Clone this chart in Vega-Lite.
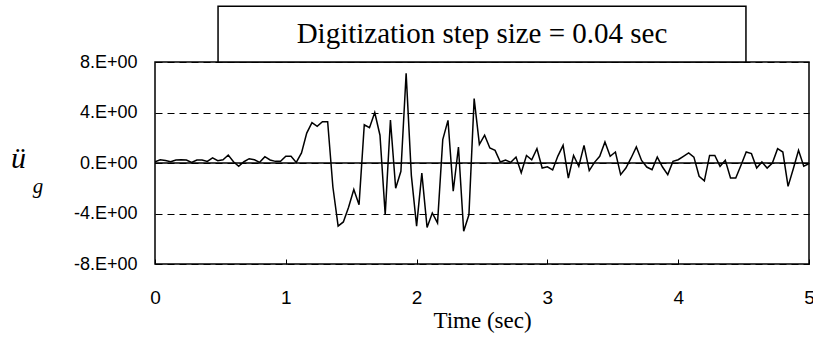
{
  "$schema": "https://vega.github.io/schema/vega-lite/v6.json",
  "autosize": {"type": "none"},
  "width": 654,
  "height": 202,
  "padding": {"left": 155, "top": 62, "right": 4, "bottom": 80},
  "background": "white",
  "config": {
    "view": {"stroke": "black", "strokeWidth": 1.5}
  },
  "datasets": {
    "accel": [
    {"t":0.00,"a":0.1},{"t":0.04,"a":0.26},{"t":0.08,"a":0.2},{"t":0.12,"a":0.1},{"t":0.16,"a":0.24},
    {"t":0.20,"a":0.26},{"t":0.24,"a":0.24},{"t":0.28,"a":0.05},{"t":0.32,"a":0.24},{"t":0.36,"a":0.24},
    {"t":0.40,"a":0.13},{"t":0.44,"a":0.4},{"t":0.48,"a":0.18},{"t":0.52,"a":0.26},{"t":0.56,"a":0.63},
    {"t":0.60,"a":0.1},{"t":0.64,"a":-0.26},{"t":0.68,"a":0.1},{"t":0.72,"a":0.34},{"t":0.76,"a":0.26},
    {"t":0.80,"a":0.05},{"t":0.84,"a":0.5},{"t":0.88,"a":0.24},{"t":0.92,"a":0.13},{"t":0.96,"a":0.13},
    {"t":1.00,"a":0.53},{"t":1.04,"a":0.53},{"t":1.08,"a":0.05},{"t":1.12,"a":0.8},{"t":1.16,"a":2.37},
    {"t":1.20,"a":3.2},{"t":1.24,"a":2.9},{"t":1.28,"a":3.27},{"t":1.32,"a":3.27},{"t":1.36,"a":-1.9},
    {"t":1.40,"a":-5.0},{"t":1.44,"a":-4.67},{"t":1.48,"a":-3.5},{"t":1.52,"a":-2.1},{"t":1.56,"a":-3.3},
    {"t":1.60,"a":3.03},{"t":1.64,"a":2.8},{"t":1.68,"a":4.0},{"t":1.72,"a":2.2},{"t":1.76,"a":-4.1},
    {"t":1.80,"a":3.4},{"t":1.84,"a":-2.0},{"t":1.88,"a":-0.66},{"t":1.92,"a":7.1},{"t":1.96,"a":-1.0},
    {"t":2.00,"a":-5.0},{"t":2.04,"a":-0.8},{"t":2.08,"a":-5.1},{"t":2.12,"a":-3.96},{"t":2.16,"a":-4.75},
    {"t":2.20,"a":1.85},{"t":2.24,"a":3.38},{"t":2.28,"a":-2.24},{"t":2.32,"a":1.27},{"t":2.36,"a":-5.4},
    {"t":2.40,"a":-4.1},{"t":2.44,"a":5.1},{"t":2.48,"a":1.48},{"t":2.52,"a":2.2},{"t":2.56,"a":1.19},
    {"t":2.60,"a":1.0},{"t":2.64,"a":0.08},{"t":2.68,"a":0.24},{"t":2.72,"a":0.05},{"t":2.76,"a":0.47},
    {"t":2.80,"a":-0.77},{"t":2.84,"a":0.6},{"t":2.88,"a":0.26},{"t":2.92,"a":1.13},{"t":2.96,"a":-0.4},
    {"t":3.00,"a":-0.3},{"t":3.04,"a":-0.55},{"t":3.08,"a":0.55},{"t":3.12,"a":1.4},{"t":3.16,"a":-1.19},
    {"t":3.20,"a":0.6},{"t":3.24,"a":-0.26},{"t":3.28,"a":1.4},{"t":3.32,"a":-0.6},{"t":3.36,"a":0.05},
    {"t":3.40,"a":0.53},{"t":3.44,"a":1.66},{"t":3.48,"a":0.53},{"t":3.52,"a":0.87},{"t":3.56,"a":-0.92},
    {"t":3.60,"a":-0.4},{"t":3.64,"a":0.4},{"t":3.68,"a":1.27},{"t":3.72,"a":0.2},{"t":3.76,"a":-0.32},
    {"t":3.80,"a":-0.53},{"t":3.84,"a":0.47},{"t":3.88,"a":-0.32},{"t":3.92,"a":-0.92},{"t":3.96,"a":0.13},
    {"t":4.00,"a":0.26},{"t":4.04,"a":0.53},{"t":4.08,"a":0.8},{"t":4.12,"a":0.47},{"t":4.16,"a":-1.05},
    {"t":4.20,"a":-1.42},{"t":4.24,"a":0.6},{"t":4.28,"a":0.6},{"t":4.32,"a":-0.26},{"t":4.36,"a":0.21},
    {"t":4.40,"a":-1.19},{"t":4.44,"a":-1.19},{"t":4.48,"a":-0.18},{"t":4.52,"a":0.87},{"t":4.56,"a":0.74},
    {"t":4.60,"a":-0.4},{"t":4.64,"a":0.08},{"t":4.68,"a":-0.4},{"t":4.72,"a":0.0},{"t":4.76,"a":1.13},
    {"t":4.80,"a":0.87},{"t":4.84,"a":-1.85},{"t":4.88,"a":-0.45},{"t":4.92,"a":1.0},{"t":4.96,"a":-0.26},
    {"t":5.00,"a":-0.05}
    ],
    "titlebox": [{"label": "Digitization step size = 0.04 sec"}],
    "sub": [{"label": "g"}],
    "zero": [{"v": 0}]
  },
  "layer": [
    {
      "data": {"name": "accel"},
      "mark": {"type": "line", "color": "black", "strokeWidth": 1.5, "clip": true},
      "encoding": {
        "x": {
          "field": "t", "type": "quantitative",
          "scale": {"domain": [0, 5], "nice": false, "zero": false},
          "axis": {
            "values": [0, 1, 2, 3, 4, 5],
            "format": ".0f",
            "grid": false, "domain": false,
            "tickSize": -5, "tickColor": "black", "tickWidth": 1,
            "labelFont": "Liberation Sans",
            "labelFontSize": 19, "labelColor": "black", "labelPadding": 29,
            "labelFlush": false,
            "title": "Time (sec)",
            "titleFont": "Liberation Serif", "titleFontSize": 23, "titleFontWeight": "normal",
            "titleColor": "black", "titleX": 327, "titleY": 63, "titleBaseline": "alphabetic"
          }
        },
        "y": {
          "field": "a", "type": "quantitative",
          "scale": {"domain": [-8, 8], "nice": false},
          "axis": {
            "values": [-8, -4, 0, 4, 8],
            "labelExpr": "(datum.value < 0 ? '-' : '') + abs(datum.value) + '.E+00'",
            "grid": true, "gridDash": [7, 5], "gridColor": "black", "gridWidth": 1, "gridOpacity": 1,
            "domain": false, "ticks": false,
            "labelFont": "Liberation Sans",
            "labelFontSize": 18, "labelColor": "black", "labelPadding": 18,
            "labelFlush": false,
            "title": "ü",
            "titleFont": "Liberation Serif", "titleFontSize": 30, "titleFontStyle": "italic",
            "titleFontWeight": "normal", "titleColor": "black",
            "titleAngle": 0, "titleX": -137, "titleY": 105, "titleAlign": "center",
            "titleBaseline": "alphabetic"
          }
        }
      }
    },
    {
      "data": {"name": "zero"},
      "mark": {"type": "rule", "color": "black", "strokeWidth": 1.5},
      "encoding": {"y": {"field": "v", "type": "quantitative"}}
    },
    {
      "data": {"name": "titlebox"},
      "mark": {"type": "rect", "fill": "white", "stroke": "black", "strokeWidth": 1.5, "clip": false},
      "encoding": {
        "x": {"datum": 0.482}, "x2": {"datum": 4.518},
        "y": {"datum": 12.41}, "y2": {"datum": 8}
      }
    },
    {
      "data": {"name": "titlebox"},
      "mark": {"type": "text", "font": "Liberation Serif",
               "fontSize": 29, "color": "black", "align": "center", "baseline": "alphabetic", "clip": false},
      "encoding": {"x": {"datum": 2.5}, "y": {"datum": 9.48}, "text": {"field": "label"}}
    },
    {
      "data": {"name": "sub"},
      "mark": {"type": "text", "font": "Liberation Serif", "fontStyle": "italic",
               "fontSize": 21, "color": "black", "align": "center", "baseline": "middle", "clip": false},
      "encoding": {"x": {"datum": -0.894}, "y": {"datum": -1.9}, "text": {"field": "label"}}
    }
  ]
}
